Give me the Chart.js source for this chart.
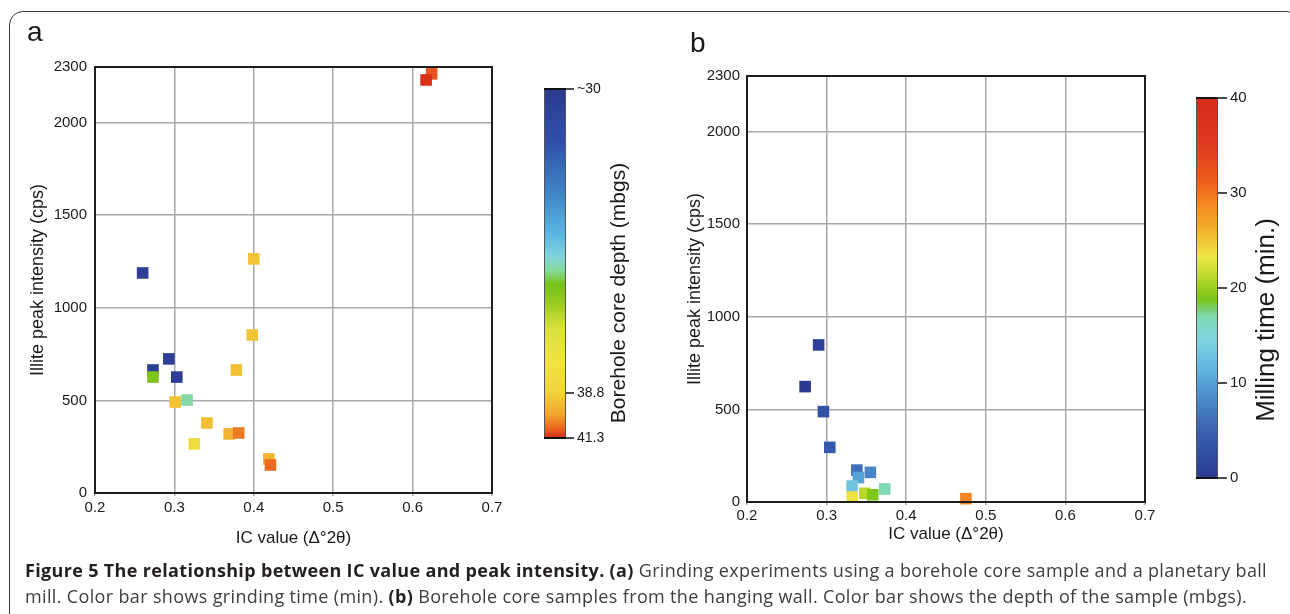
<!DOCTYPE html>
<html lang="en">
<head>
<meta charset="UTF-8">
<title>Figure 5 - IC value and peak intensity</title>
<script src="https://cdn.jsdelivr.net/npm/chart.js"></script>
<style>
  body { margin: 0; width: 1290px; height: 614px; background: #fff; position: relative; overflow: hidden;
         font-family: "Liberation Sans", Arial, sans-serif; }
  .box { position: absolute; left: 9px; top: 11px; width: 1290px; height: 700px;
         border: 1.5px solid #3c3c3c; border-radius: 14px; }
  canvas { position: absolute; top: 0; }
  .tag { position: absolute; font-size: 28px; line-height: 28px; color: #1a1a1a; }
  .caption { position: absolute; left: 25px; top: 557px; font-family: "Open Sans", sans-serif;
             font-size: 18px; line-height: 26px; color: #3d3d3d; }
  .caption div { white-space: nowrap; display: table; }
  .caption b { color: #231f20; }
</style>
</head>
<body>
<div class="box"></div>
<canvas id="chartA" width="660" height="560" style="left:0"></canvas>
<canvas id="chartB" width="650" height="560" style="left:640px"></canvas>
<div class="tag" style="left:27px; top:18px">a</div>
<div class="tag" style="left:690px; top:29px">b</div>
<div class="caption">
  <div id="cap1"><b>Figure 5 The relationship between IC value and peak intensity. (a)</b> Grinding experiments using a borehole core sample and a planetary ball</div>
  <div id="cap2">mill. Color bar shows grinding time (min). <b>(b)</b> Borehole core samples from the hanging wall. Color bar shows the depth of the sample (mbgs).</div>
</div>

<script>
// ---- data, panel a (colour = borehole core depth, mbgs)
const icA    = [0.624, 0.617, 0.260, 0.400, 0.398, 0.293, 0.273, 0.273, 0.303, 0.378, 0.301, 0.316, 0.341, 0.369, 0.381, 0.325, 0.419, 0.421];
const peakA  = [2263, 2230, 1188, 1264, 853, 724, 664, 626, 626, 664, 491, 502, 378, 319, 324, 265, 184, 151];
const depthA = [40.9, 41.25, 30.3, 39.2, 39.2, 30.3, 30.3, 35.8, 30.3, 39.3, 39.2, 35.2, 39.3, 39.6, 40.5, 38.3, 39.6, 40.7];

// ---- data, panel b (colour = milling time, min)
const icB   = [0.290, 0.273, 0.296, 0.304, 0.338, 0.355, 0.340, 0.332, 0.373, 0.332, 0.348, 0.358, 0.475];
const peakB = [848, 623, 488, 295, 172, 160, 132, 86, 70, 27, 47, 39, 18];
const timeB = [1, 0, 3, 4, 6, 8, 10, 13, 16.8, 23.5, 21, 19, 29];

// ---- axes
const xTicks = [0.2, 0.3, 0.4, 0.5, 0.6, 0.7];
const yTicks = [0, 500, 1000, 1500, 2000, 2300];
const depthTicks = [30, 38.8, 41.3];
const depthTickLabels = ['~30', '38.8', '41.3'];
const timeTicks = [0, 10, 20, 30, 40];

// colour bar a: tick positions along the bar (0 = top) - scale is not linear
const depthTickPos = [0, 0.871, 1];
const depthStops = [[0,'#2b3990'],[0.15,'#3050a8'],[0.3,'#3f86c8'],[0.42,'#5cb8e2'],[0.48,'#80d4dc'],[0.52,'#86da9a'],
  [0.56,'#74c21a'],[0.62,'#9ccc22'],[0.68,'#d6e03a'],[0.78,'#f0e444'],[0.87,'#f2d23a'],[0.93,'#f0a82c'],[0.97,'#ec6a20'],[1,'#d82a18']];
// colour bar b: 0 = bottom (0 min), 1 = top (40 min)
const timeStops = [[0,'#2c3a92'],[0.05,'#2f4aa0'],[0.125,'#3a62b0'],[0.21,'#4a8cc8'],[0.285,'#60b4e0'],[0.365,'#80d4e0'],
  [0.425,'#7ed8b0'],[0.47,'#78c418'],[0.54,'#c8dc30'],[0.58,'#eee846'],[0.63,'#f0c234'],[0.67,'#f4a42a'],[0.72,'#f48a22'],
  [0.785,'#ec5c1c'],[0.87,'#e03c20'],[1,'#d42a18']];

function hex(c) { return [1, 3, 5].map(i => parseInt(c.substr(i, 2), 16)); }
function colourAt(stops, f) {
  f = Math.max(0, Math.min(1, f));
  for (let i = 1; i < stops.length; i++) {
    if (f <= stops[i][0]) {
      const [f0, c0] = stops[i - 1], [f1, c1] = stops[i];
      const t = (f - f0) / (f1 - f0), a = hex(c0), b = hex(c1);
      return 'rgb(' + a.map((v, k) => Math.round(v + (b[k] - v) * t)).join(',') + ')';
    }
  }
  return stops[stops.length - 1][1];
}
function depthFrac(d) {
  for (let i = 1; i < depthTicks.length; i++) {
    if (d <= depthTicks[i] || i === depthTicks.length - 1) {
      const t = (d - depthTicks[i - 1]) / (depthTicks[i] - depthTicks[i - 1]);
      return depthTickPos[i - 1] + t * (depthTickPos[i] - depthTickPos[i - 1]);
    }
  }
}
const timeFrac = t => t / 40;

const ink = '#1a1a1a';
const font = '"Liberation Sans", Arial, sans-serif';

// black frame all round the plot area
const framePlugin = {
  id: 'frame',
  afterDatasetsDraw(chart) {
    const {ctx, chartArea: a} = chart;
    ctx.save();
    ctx.strokeStyle = '#1e1e1e';
    ctx.lineWidth = 2;
    ctx.strokeRect(a.left, a.top, a.right - a.left, a.bottom - a.top);
    ctx.restore();
  }
};

// colour bar drawn next to the plot
function makeColourBar(cb) {
  return {
    id: 'colourBar',
    afterDraw(chart) {
      const ctx = chart.ctx;
      const h = cb.y1 - cb.y0;
      const g = ctx.createLinearGradient(0, cb.fromBottom ? cb.y1 : cb.y0, 0, cb.fromBottom ? cb.y0 : cb.y1);
      cb.stops.forEach(([f, c]) => g.addColorStop(f, c));
      ctx.save();
      ctx.fillStyle = g;
      ctx.fillRect(cb.x, cb.y0, cb.w, h);
      ctx.strokeStyle = '#555';
      ctx.lineWidth = 1;
      ctx.strokeRect(cb.x + 0.5, cb.y0 + 0.5, cb.w - 1, h - 1);
      ctx.strokeStyle = '#111';
      ctx.lineWidth = 2;
      ctx.beginPath();
      ctx.moveTo(cb.x, cb.y0); ctx.lineTo(cb.x + cb.w, cb.y0);
      ctx.moveTo(cb.x, cb.y1); ctx.lineTo(cb.x + cb.w, cb.y1);
      ctx.stroke();
      ctx.lineWidth = 1.5;
      ctx.fillStyle = ink;
      ctx.font = cb.tickSize + 'px ' + font;
      ctx.textAlign = 'left';
      ctx.textBaseline = 'middle';
      cb.ticks.forEach((v, i) => {
        const f = cb.frac(v);
        const y = cb.fromBottom ? cb.y1 - f * h : cb.y0 + f * h;
        ctx.beginPath();
        ctx.moveTo(cb.x + cb.w, y);
        ctx.lineTo(cb.x + cb.w + cb.tickLen, y);
        ctx.stroke();
        ctx.fillText(cb.labels[i], cb.x + cb.w + cb.tickLen + 3, y);
      });
      ctx.translate(cb.titleX, cb.titleY);
      ctx.rotate(-Math.PI / 2);
      ctx.textAlign = 'center';
      ctx.font = cb.titleSize + 'px ' + font;
      ctx.fillText(cb.title, 0, 0);
      ctx.restore();
    }
  };
}

function scatterConfig(xs, ys, colours, p) {
  return {
    type: 'scatter',
    data: {
      datasets: [{
        data: xs.map((x, i) => ({x: x, y: ys[i]})),
        backgroundColor: colours,
        borderWidth: 0,
        pointStyle: 'rect',
        pointRadius: 8.2,
        clip: false
      }]
    },
    options: {
      responsive: false,
      animation: false,
      events: [],
      layout: {padding: p.padding},
      plugins: {legend: {display: false}, tooltip: {enabled: false}},
      scales: {
        x: {
          type: 'linear', min: 0.2, max: 0.7,
          afterBuildTicks: s => { s.ticks = xTicks.map(v => ({value: v})); },
          afterFit: s => { s.height = p.xHeight; },
          ticks: {callback: v => v.toFixed(1), color: ink, font: {family: font, size: 15}, padding: p.xPad, maxRotation: 0},
          grid: {color: '#a8a8a8', lineWidth: 1.5, tickLength: 3},
          border: {color: '#1e1e1e', width: 2},
          title: {display: true, text: 'IC value (\u0394\u00b02\u03b8)', color: ink, font: {family: font, size: 17}, padding: {top: 0, bottom: 4}}
        },
        y: {
          type: 'linear', min: 0, max: 2300,
          afterBuildTicks: s => { s.ticks = yTicks.map(v => ({value: v})); },
          afterFit: s => { s.width = p.yWidth; },
          ticks: {callback: v => String(v), color: ink, font: {family: font, size: 15}, padding: p.yPad},
          grid: {color: '#a8a8a8', lineWidth: 1.5, drawTicks: false},
          border: {color: '#1e1e1e', width: 2},
          title: {display: true, text: 'Illite peak intensity (cps)', color: ink, font: {family: font, size: 18}, padding: {top: 4, bottom: 0}}
        }
      }
    },
    plugins: [framePlugin, makeColourBar(p.bar)]
  };
}

new Chart(document.getElementById('chartA'), scatterConfig(icA, peakA, depthA.map(d => colourAt(depthStops, depthFrac(d))), {
  padding: {left: 23, top: 67, right: 168, bottom: 7},
  xHeight: 60, yWidth: 72, xPad: 3, yPad: 8,
  bar: {x: 544, w: 22, y0: 89, y1: 438, fromBottom: false, stops: depthStops,
        ticks: depthTicks, labels: depthTickLabels, frac: depthFrac, tickLen: 8, tickSize: 14,
        title: 'Borehole core depth (mbgs)', titleSize: 21, titleX: 619, titleY: 293}
}));

new Chart(document.getElementById('chartB'), scatterConfig(icB, peakB, timeB.map(t => colourAt(timeStops, timeFrac(t))), {
  padding: {left: 40, top: 76, right: 145, bottom: 11},
  xHeight: 47, yWidth: 67, xPad: 2, yPad: 7,
  bar: {x: 556, w: 22, y0: 98, y1: 478, fromBottom: true, stops: timeStops,
        ticks: timeTicks, labels: timeTicks.map(String), frac: timeFrac, tickLen: 9, tickSize: 15,
        title: 'Milling time (min.)', titleSize: 26, titleX: 627, titleY: 320}
}));

// stretch caption lines to the widths they take in the figure
[['cap1', 1242], ['cap2', 1222]].forEach(([id, w]) => {
  const el = document.getElementById(id);
  const n = el.textContent.length;
  el.style.letterSpacing = ((w - el.getBoundingClientRect().width) / n) + 'px';
});
</script>
</body>
</html>
